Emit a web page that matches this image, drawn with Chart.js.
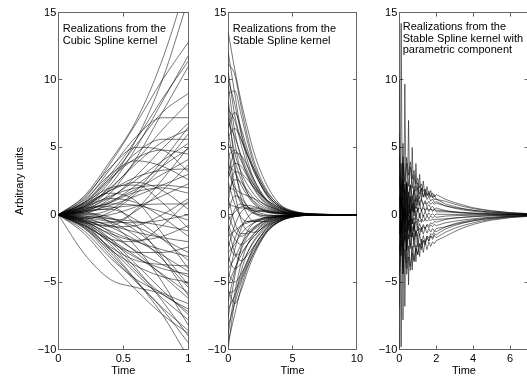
<!DOCTYPE html>
<html>
<head>
<meta charset="utf-8">
<script src="https://cdn.jsdelivr.net/npm/chart.js@4.4.1/dist/chart.umd.min.js"></script>
<style>
  html, body { margin: 0; padding: 0; background: #fff; overflow: hidden; width: 527px; height: 383px; position: relative; }
  canvas { position: absolute; top: 0; }
</style>
</head>
<body>
<canvas id="cubic" width="200" height="383" style="left:0px"></canvas>
<canvas id="stable" width="170" height="383" style="left:200px"></canvas>
<canvas id="param" width="170" height="383" style="left:370px"></canvas>
<script>
// values (estimated)
const yTicks = [-10, -5, 0, 5, 10, 15];

const cubicTicks = [0, 0.5, 1];
const cubicTime = [0, 0.2, 0.4, 0.6, 0.8, 1];
const cubicCurves = [
  [0, 1.4, 4.0, 7.0, 11.5, 17.5],
  [0, 0.6, 2.5, 5.6, 10.0, 16.0],
  [0, 1.2, 3.8, 6.8, 10.0, 12.8],
  [0, 0.5, 2.2, 5.0, 8.4, 11.8],
  [0, 0.9, 3.0, 5.6, 8.6, 11.4],
  [0, 0.3, 1.6, 4.2, 7.6, 11.0],
  [0, 0.8, 2.8, 5.2, 7.6, 9.0],
  [0, 1.0, 3.4, 5.8, 7.2, 7.2],
  [0, 0.2, 1.2, 2.9, 4.9, 6.8],
  [0, 0.6, 2.0, 3.8, 5.4, 6.3],
  [0, -0.3, 0.2, 1.6, 3.6, 6.0],
  [0, 0.7, 2.6, 4.6, 5.6, 5.6],
  [0, 0.4, 1.3, 2.6, 4.0, 5.3],
  [0, 0.1, 0.9, 2.2, 3.6, 4.9],
  [0, 0.9, 2.7, 4.2, 4.8, 4.5],
  [0, 0.3, 1.0, 1.9, 3.0, 4.1],
  [0, -0.5, -0.6, 0.3, 1.8, 3.7],
  [0, 0.6, 1.8, 2.8, 3.3, 3.4],
  [0, 0.2, 0.7, 1.4, 2.2, 3.0],
  [0, 1.1, 3.0, 4.0, 3.6, 2.6],
  [0, -0.2, 0.0, 0.6, 1.4, 2.3],
  [0, 0.5, 1.4, 2.0, 2.2, 2.0],
  [0, 0.3, 0.9, 1.7, 2.0, 1.6],
  [0, -0.4, -0.9, -0.8, 0.0, 1.2],
  [0, 0.2, 0.5, 0.7, 0.8, 0.8],
  [0, 0.7, 1.8, 2.4, 1.8, 0.4],
  [0, -0.2, -0.5, -0.6, -0.4, 0.0],
  [0, 0.4, 0.8, 0.7, 0.2, -0.4],
  [0, -0.5, -1.4, -1.9, -1.6, -0.8],
  [0, -0.1, -0.3, -0.5, -0.8, -1.2],
  [0, 0.6, 1.2, 0.9, -0.2, -1.6],
  [0, -0.3, -0.8, -1.3, -1.7, -2.0],
  [0, -0.7, -2.0, -2.8, -2.8, -2.4],
  [0, 0.0, -0.3, -0.9, -1.8, -2.8],
  [0, -0.4, -1.2, -2.0, -2.6, -3.1],
  [0, 0.3, 0.4, -0.4, -1.8, -3.4],
  [0, -0.9, -2.4, -3.4, -3.7, -3.8],
  [0, -0.2, -0.9, -1.9, -3.0, -4.2],
  [0, -0.5, -1.5, -2.7, -3.7, -4.6],
  [0, -1.0, -2.6, -3.8, -4.6, -5.0],
  [0, -0.1, -0.5, -1.6, -3.3, -5.4],
  [0, -0.6, -1.8, -3.1, -4.4, -5.8],
  [0, -0.3, -1.3, -2.8, -4.5, -6.2],
  [0, -1.2, -3.2, -4.8, -5.8, -6.6],
  [0, -2.9, -4.8, -5.4, -5.9, -7.2],
  [0, -0.4, -1.8, -3.7, -5.6, -7.4],
  [0, -0.8, -2.5, -4.4, -6.2, -7.8],
  [0, 0.2, -0.6, -2.4, -5.0, -8.2],
  [0, -1.0, -3.0, -5.0, -6.9, -8.6],
  [0, -0.5, -2.0, -4.0, -6.4, -9.0],
  [0, -0.9, -2.8, -4.9, -7.0, -9.5],
  [0, -0.7, -2.6, -4.9, -7.4, -10.6],
  [0, 0.4, 1.9, 4.0, 6.3, 8.3],
  [0, 0.9, 2.0, 2.2, 0.9, -1.0],
  [0, -0.6, -0.8, 0.4, 2.6, 5.0],
  [0, 0.5, 0.6, -0.8, -3.2, -6.0],
  [0, -0.8, -1.8, -2.0, -0.8, 1.0],
  [0, 1.3, 3.5, 5.0, 4.8, 3.2],
  [0, 0.8, 1.6, 1.0, -1.4, -4.0],
  [0, 0.0, 0.4, 1.8, 4.0, 6.5],
  [0, -1.4, -3.6, -5.6, -7.4, -8.8],
  [0, -0.6, -2.2, -4.2, -5.9, -7.0],
  [0, 0.1, -0.2, -1.2, -2.9, -5.2],
  [0, -0.8, -2.0, -3.2, -4.0, -4.4]
];

const stableTicks = [0, 5, 10];
const stableTime = [0, 0.5, 1, 1.5, 2, 3, 4, 5, 7, 10];
const stableCurves = [
  [13.5, 10.8, 8.4, 6.4, 4.6, 2.2, 0.8, 0.3, 0.05, 0],
  [12.0, 9.0, 6.2, 4.5, 3.2, 1.5, 0.6, 0.2, 0.03, 0],
  [11.2, 10.4, 8.0, 5.8, 4.0, 1.8, 0.7, 0.25, 0.03, 0],
  [10.6, 7.4, 5.6, 4.4, 3.4, 1.7, 0.7, 0.25, 0.03, 0],
  [10.0, 8.2, 6.0, 4.0, 2.6, 1.0, 0.35, 0.12, 0.02, 0],
  [9.6, 6.2, 4.2, 3.0, 2.2, 1.1, 0.5, 0.2, 0.03, 0],
  [9.0, 9.2, 7.4, 5.4, 3.7, 1.6, 0.6, 0.2, 0.03, 0],
  [8.4, 5.4, 3.0, 1.6, 0.9, 0.3, 0.1, 0.04, 0, 0],
  [7.8, 7.0, 5.2, 3.6, 2.4, 1.0, 0.4, 0.15, 0.02, 0],
  [7.2, 4.6, 3.2, 2.6, 2.0, 1.1, 0.5, 0.2, 0.03, 0],
  [6.8, 5.8, 4.4, 3.2, 2.2, 0.9, 0.3, 0.1, 0.01, 0],
  [6.2, 3.4, 1.6, 0.6, 0.1, -0.2, -0.15, -0.06, -0.01, 0],
  [5.8, 6.4, 5.6, 4.4, 3.2, 1.5, 0.6, 0.2, 0.03, 0],
  [5.3, 4.0, 2.6, 1.6, 1.0, 0.4, 0.15, 0.05, 0.01, 0],
  [4.8, 2.2, 0.8, 0.4, 0.3, 0.2, 0.1, 0.04, 0.01, 0],
  [4.4, 4.8, 4.0, 2.9, 2.0, 0.8, 0.3, 0.1, 0.01, 0],
  [4.0, 1.6, -0.4, -1.2, -1.3, -0.8, -0.35, -0.12, -0.02, 0],
  [3.6, 3.2, 2.2, 1.4, 0.8, 0.2, 0.05, 0.02, 0, 0],
  [3.2, 2.0, 1.6, 1.4, 1.2, 0.7, 0.3, 0.1, 0.02, 0],
  [2.8, 3.8, 3.6, 2.8, 1.9, 0.7, 0.25, 0.08, 0.01, 0],
  [2.4, 0.8, -0.2, -0.5, -0.5, -0.3, -0.12, -0.04, 0, 0],
  [2.0, 1.8, 1.0, 0.4, 0.1, -0.05, -0.05, -0.02, 0, 0],
  [1.6, 2.6, 2.4, 1.8, 1.2, 0.5, 0.2, 0.07, 0.01, 0],
  [1.2, -0.6, -1.4, -1.4, -1.1, -0.5, -0.2, -0.07, -0.01, 0],
  [0.8, 0.6, 0.5, 0.5, 0.4, 0.2, 0.08, 0.03, 0, 0],
  [0.4, 1.4, 1.2, 0.6, 0.2, -0.1, -0.1, -0.04, 0, 0],
  [0.0, -1.2, -1.6, -1.3, -0.9, -0.35, -0.12, -0.04, 0, 0],
  [-0.4, 0.2, 0.6, 0.7, 0.6, 0.3, 0.12, 0.04, 0, 0],
  [-0.8, -1.8, -2.2, -1.9, -1.4, -0.6, -0.2, -0.07, -0.01, 0],
  [-1.2, 0.4, 0.8, 0.6, 0.3, 0.0, -0.05, -0.02, 0, 0],
  [-1.6, -1.2, -0.8, -0.6, -0.45, -0.25, -0.1, -0.04, 0, 0],
  [-2.0, -3.0, -2.8, -2.2, -1.6, -0.7, -0.25, -0.08, -0.01, 0],
  [-2.4, -0.8, 0.2, 0.5, 0.5, 0.25, 0.1, 0.03, 0, 0],
  [-2.8, -2.2, -1.4, -0.9, -0.6, -0.25, -0.1, -0.03, 0, 0],
  [-3.2, -4.0, -3.6, -2.8, -2.0, -0.9, -0.35, -0.12, -0.02, 0],
  [-3.6, -1.8, -0.8, -0.5, -0.4, -0.2, -0.08, -0.03, 0, 0],
  [-4.0, -3.2, -2.2, -1.5, -1.0, -0.4, -0.15, -0.05, -0.01, 0],
  [-4.4, -5.0, -4.4, -3.4, -2.4, -1.0, -0.4, -0.13, -0.02, 0],
  [-4.8, -2.6, -1.0, -0.2, 0.2, 0.3, 0.15, 0.05, 0.01, 0],
  [-5.2, -4.0, -3.0, -2.2, -1.6, -0.7, -0.3, -0.1, -0.01, 0],
  [-5.8, -5.6, -4.6, -3.4, -2.4, -1.1, -0.45, -0.15, -0.02, 0],
  [-6.4, -4.2, -2.6, -1.6, -1.0, -0.4, -0.15, -0.05, -0.01, 0],
  [-7.0, -6.0, -4.8, -3.6, -2.6, -1.2, -0.5, -0.17, -0.02, 0],
  [-7.6, -4.6, -2.4, -1.2, -0.6, -0.15, -0.05, -0.02, 0, 0],
  [-8.2, -6.6, -5.0, -3.8, -2.8, -1.3, -0.5, -0.17, -0.02, 0],
  [-8.8, -5.8, -3.6, -2.2, -1.4, -0.5, -0.2, -0.06, -0.01, 0],
  [-9.4, -7.4, -5.4, -3.9, -2.8, -1.2, -0.45, -0.15, -0.02, 0],
  [-9.8, -6.4, -4.2, -2.8, -1.9, -0.8, -0.3, -0.1, -0.01, 0],
  [8.0, 3.8, 1.2, 0.0, -0.5, -0.5, -0.25, -0.08, -0.01, 0],
  [6.5, 7.6, 6.4, 4.8, 3.4, 1.4, 0.5, 0.17, 0.02, 0],
  [-1.0, -2.8, -3.4, -3.0, -2.3, -1.0, -0.4, -0.13, -0.02, 0],
  [3.0, 4.6, 4.4, 3.6, 2.6, 1.1, 0.4, 0.13, 0.02, 0],
  [-5.6, -6.6, -5.6, -4.2, -3.0, -1.3, -0.5, -0.17, -0.02, 0],
  [1.0, 3.2, 3.0, 2.2, 1.5, 0.6, 0.2, 0.07, 0.01, 0]
];

const paramTicks = [0, 2, 4, 6];
const paramTime = [0, 0.1, 0.2, 0.3, 0.4, 0.5, 0.6, 0.7, 0.8, 0.9, 1.0, 1.1, 1.2, 1.3, 1.4,
  1.5, 1.6, 1.7, 1.8, 1.9, 2.0, 2.5, 3, 3.5, 4, 4.5, 5, 6, 7];
const paramCurves = [
  [-14.5, 14.2, -7.8, 9.7, -3.6, 7.0, -1.3, 5.0, -0.1, 3.8, 0.7, 3.0, 1.1, 2.5, 1.3, 2.1, 1.35, 1.8, 1.27, 1.5, 1.14, 1.0, 0.78, 0.6, 0.46, 0.35, 0.27, 0.15, 0.08],
  [10.0, -9.8, 5.3, -6.8, 2.3, -5.2, 0.4, -4.1, -0.8, -3.5, -1.5, -3.1, -1.8, -2.8, -2.0, -2.6, -2.0, -2.35, -2.0, -2.16, -1.92, -1.6, -1.25, -0.95, -0.72, -0.54, -0.4, -0.22, -0.12],
  [3.0, -1.49, 2.59, -0.62, 2.37, 0.09, 2.22, 0.56, 2.12, 0.94, 2.09, 1.18, 1.96, 1.3, 1.86, 1.38, 1.75, 1.36, 1.62, 1.32, 1.5, 1.15, 0.9, 0.7, 0.52, 0.4, 0.3, 0.16, 0.08],
  [-3.0, 1.43, -2.71, 0.44, -2.61, -0.39, -2.52, -0.86, -2.42, -1.24, -2.39, -1.46, -2.22, -1.54, -2.08, -1.58, -1.95, -1.56, -1.82, -1.52, -1.7, -1.3, -1.0, -0.78, -0.6, -0.45, -0.34, -0.18, -0.1],
  [4.0, 0.5, 3.85, 1.37, 3.84, 2.11, 3.55, 1.96, 2.94, 1.74, 2.39, 1.53, 2.0, 1.34, 1.65, 1.13, 1.37, 1.01, 1.17, 0.89, 0.98, 0.65, 0.48, 0.35, 0.26, 0.19, 0.14, 0.07, 0.03],
  [-4.0, -0.54, -3.93, -1.49, -4.0, -2.31, -3.83, -2.32, -3.38, -2.26, -2.99, -2.13, -2.6, -1.94, -2.25, -1.73, -1.95, -1.57, -1.71, -1.41, -1.48, -1.05, -0.8, -0.6, -0.45, -0.34, -0.26, -0.14, -0.07],
  [1.5, -1.16, 1.32, -0.56, 1.26, -0.07, 1.23, 0.24, 1.19, 0.49, 1.2, 0.65, 1.11, 0.72, 1.05, 0.77, 0.99, 0.77, 0.92, 0.75, 0.86, 0.66, 0.53, 0.42, 0.33, 0.26, 0.2, 0.11, 0.06],
  [-1.5, 1.14, -1.36, 0.5, -1.34, -0.03, -1.31, -0.3, -1.23, -0.51, -1.2, -0.65, -1.11, -0.72, -1.05, -0.77, -0.98, -0.75, -0.89, -0.71, -0.81, -0.6, -0.48, -0.38, -0.3, -0.23, -0.18, -0.1, -0.05],
  [6.0, -3.04, 3.76, -1.8, 2.29, -1.15, 1.39, -0.66, 0.87, -0.4, 0.52, -0.24, 0.34, -0.13, 0.22, -0.07, 0.14, -0.05, 0.08, -0.04, 0.04, 0.03, 0.02, 0.01, 0, 0, 0, 0, 0],
  [-7.0, 3.82, -4.37, 2.27, -2.66, 1.43, -1.65, 0.76, -1.12, 0.34, -0.8, 0.11, -0.57, -0.01, -0.41, -0.06, -0.3, -0.09, -0.24, -0.11, -0.19, -0.1, -0.07, -0.05, -0.03, -0.02, -0.01, 0, 0],
  [2.7, 0.56, 2.53, 1.0, 2.45, 1.37, 2.21, 1.23, 1.81, 1.06, 1.44, 0.9, 1.17, 0.75, 0.92, 0.6, 0.74, 0.52, 0.61, 0.44, 0.5, 0.3, 0.2, 0.14, 0.1, 0.07, 0.05, 0.02, 0.01],
  [-2.7, -0.58, -2.57, -1.06, -2.53, -1.47, -2.31, -1.33, -1.91, -1.16, -1.54, -1.0, -1.27, -0.85, -1.02, -0.7, -0.83, -0.6, -0.68, -0.5, -0.55, -0.35, -0.25, -0.18, -0.12, -0.09, -0.06, -0.03, -0.01],
  [1.5, -2.28, 0.79, -1.97, 0.22, -1.79, -0.21, -1.66, -0.54, -1.6, -0.81, -1.53, -0.92, -1.44, -0.99, -1.37, -1.03, -1.29, -1.03, -1.21, -1.02, -0.9, -0.72, -0.57, -0.45, -0.35, -0.27, -0.15, -0.08],
  [-1.5, 2.26, -0.83, 1.91, -0.3, 1.69, 0.01, 1.36, 0.14, 1.1, 0.21, 0.89, 0.24, 0.72, 0.23, 0.57, 0.23, 0.49, 0.23, 0.41, 0.22, 0.22, 0.16, 0.12, 0.09, 0.06, 0.05, 0.02, 0.01],
  [4.5, 1.84, 4.32, 2.44, 4.26, 2.93, 3.93, 2.64, 3.29, 2.29, 2.7, 1.99, 2.29, 1.74, 1.91, 1.47, 1.61, 1.31, 1.38, 1.13, 1.16, 0.8, 0.6, 0.44, 0.33, 0.25, 0.19, 0.1, 0.05],
  [-4.5, -1.88, -4.4, -2.56, -4.42, -3.13, -4.13, -2.84, -3.49, -2.49, -2.9, -2.17, -2.45, -1.88, -2.03, -1.57, -1.71, -1.41, -1.48, -1.23, -1.26, -0.9, -0.66, -0.5, -0.37, -0.28, -0.21, -0.11, -0.06],
  [1.2, -1.49, 0.57, -1.07, 0.18, -0.83, -0.07, -0.68, -0.22, -0.6, -0.33, -0.54, -0.36, -0.49, -0.38, -0.46, -0.38, -0.41, -0.36, -0.38, -0.35, -0.3, -0.24, -0.19, -0.15, -0.11, -0.09, -0.05, -0.02],
  [-1.4, 1.3, -0.5, 1.0, -0.1, 0.8, 0.12, 0.66, 0.25, 0.58, 0.34, 0.52, 0.37, 0.48, 0.38, 0.45, 0.37, 0.4, 0.35, 0.37, 0.34, 0.28, 0.22, 0.17, 0.13, 0.1, 0.08, 0.04, 0.02]
];

Chart.defaults.font.family = "'Liberation Sans', Arial, Helvetica, sans-serif";
Chart.defaults.font.size = 11;
Chart.defaults.color = '#000';

const frame = '#666';

// text block inside the plot box
const panelText = {
  id: 'panelText',
  afterDraw(chart, args, opts) {
    const { ctx, chartArea } = chart;
    ctx.save();
    ctx.font = "11px 'Liberation Sans', Arial, Helvetica, sans-serif";
    ctx.fillStyle = '#000';
    ctx.textBaseline = 'alphabetic';
    opts.lines.forEach((t, i) => {
      ctx.fillText(t, chartArea.left + opts.dx, chartArea.top + opts.dy + i * 11.5);
    });
    ctx.restore();
  }
};

function tickGrid() {
  return { drawOnChartArea: false, drawTicks: true, tickLength: -4, color: frame, lineWidth: 1 };
}

function fixedTicks(values) {
  return scale => { scale.ticks = values.map(v => ({ value: v })); };
}

const fmt = v => String(v).replace('-', '\u2212');

function drawPanel(id, p) {
  const datasets = p.curves.map(c => ({
    data: c.map((v, i) => ({ x: p.time[i], y: v })),
    borderColor: 'rgba(0,0,0,0.9)',
    borderWidth: 0.6,
    pointRadius: 0,
    fill: false,
    tension: 0,
    cubicInterpolationMode: p.smooth ? 'monotone' : 'default',
    xAxisID: 'x',
    yAxisID: 'y'
  }));

  new Chart(document.getElementById(id), {
    type: 'line',
    data: { datasets },
    options: {
      responsive: false,
      animation: false,
      events: [],
      layout: { padding: { left: 0, top: 7, right: p.padRight, bottom: 0 } },
      plugins: {
        legend: { display: false },
        tooltip: { enabled: false },
        panelText: { lines: p.lines, dx: p.dx, dy: p.dy }
      },
      scales: {
        x: {
          type: 'linear', position: 'bottom', min: 0, max: p.xMax,
          afterBuildTicks: fixedTicks(p.xTicks),
          ticks: { padding: 7, maxRotation: 0, autoSkip: false, callback: fmt },
          grid: tickGrid(),
          border: { color: frame, width: 1 },
          title: { display: true, text: 'Time', padding: { top: 0, bottom: 5 } },
          afterFit: s => { s.height = 33.5; }
        },
        x2: {
          type: 'linear', position: 'top', min: 0, max: p.xMax,
          afterBuildTicks: fixedTicks(p.xTicks),
          ticks: { display: false },
          grid: tickGrid(),
          border: { color: frame, width: 1 },
          afterFit: s => { s.height = 0; }
        },
        y: {
          type: 'linear', position: 'left', min: -10, max: 15,
          afterBuildTicks: fixedTicks(yTicks),
          ticks: { padding: 6, callback: fmt },
          grid: tickGrid(),
          border: { color: frame, width: 1 },
          title: { display: !!p.yTitle, text: p.yTitle || '', padding: { top: 13, bottom: 0 } },
          afterFit: s => { s.width = p.axisWidth; }
        },
        y2: {
          type: 'linear', position: 'right', min: -10, max: 15,
          afterBuildTicks: fixedTicks(yTicks),
          ticks: { display: false },
          grid: tickGrid(),
          border: { color: frame, width: 1 },
          afterFit: s => { s.width = 0; }
        }
      }
    },
    plugins: [panelText]
  });
}

drawPanel('cubic', {
  time: cubicTime, curves: cubicCurves, xMax: 1, xTicks: cubicTicks,
  axisWidth: 58.3, padRight: 11.7, smooth: true, yTitle: 'Arbitrary units',
  lines: ['Realizations from the', 'Cubic Spline kernel'], dx: 4.4, dy: 19.5
});

drawPanel('stable', {
  time: stableTime, curves: stableCurves, xMax: 10, xTicks: stableTicks,
  axisWidth: 28.3, padRight: 12.7, smooth: true,
  lines: ['Realizations from the', 'Stable Spline kernel'], dx: 4.4, dy: 19.5
});

drawPanel('param', {
  time: paramTime, curves: paramCurves, xMax: 7, xTicks: paramTicks,
  axisWidth: 29.3, padRight: 11.5, smooth: false,
  lines: ['Realizations from the', 'Stable Spline kernel with', 'parametric component'], dx: 3.4, dy: 17.5
});
</script>
</body>
</html>
